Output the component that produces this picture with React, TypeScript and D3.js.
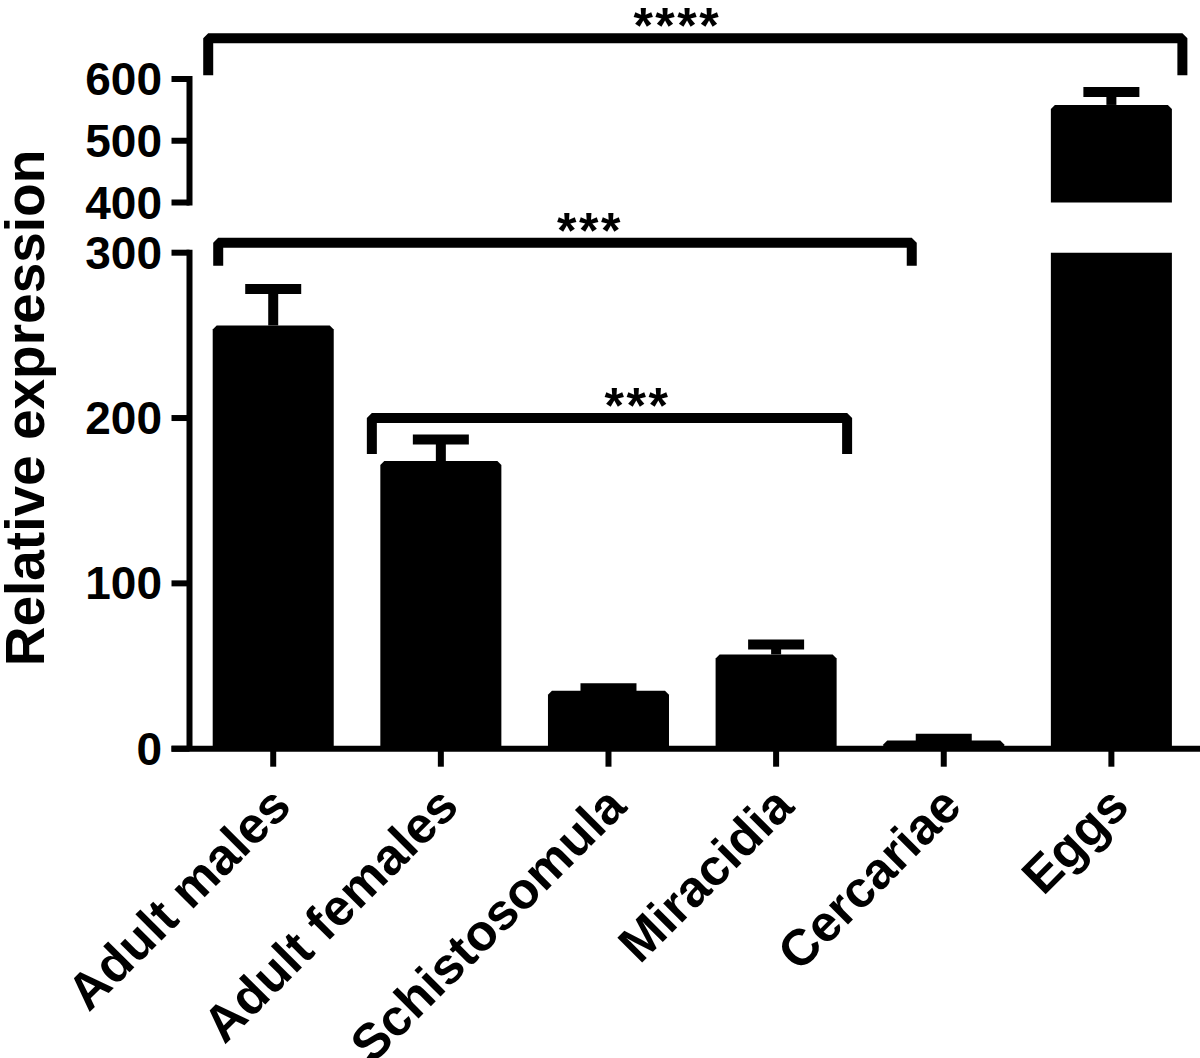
import React from "react";
import { scaleBand, scaleLinear } from "d3";

const categories = ["Adult males", "Adult females", "Schistosomula", "Miracidia", "Cercariae", "Eggs"];
const means = [256, 174, 35, 57, 5, 558];
const errors = [22, 13, 1.5, 6, 1, 21];

const lowTicks = [0, 100, 200, 300];
const highTicks = [400, 500, 600];

// significance brackets: category pair, height (data units) and label
const brackets = [
  { from: "Adult males", to: "Eggs", level: 666, label: "****" },
  { from: "Adult males", to: "Cercariae", level: 306, label: "***" },
  { from: "Adult females", to: "Miracidia", level: 200, label: "***" },
];
// hand tweaks (px) for where the legs / labels sit
const bracketTweaks = [
  { dl: -65, dr: 71, leg: 37, dLabel: -18 },
  { dl: -55, dr: -32, leg: 23, dLabel: 25 },
  { dl: -69, dr: 71, leg: 36, dLabel: 28 },
];

const W = 1200;
const H = 1058;
const font = "'Liberation Sans', Arial, Helvetica, sans-serif";
const breakLow = 300;
const breakHigh = 400;

const x = scaleBand().domain(categories).range([189.4, 1195.2]).paddingInner(0.278).paddingOuter(0.139);
const yLow = scaleLinear().domain([0, 300]).range([748.7, 252.7]);
const yHigh = scaleLinear().domain([400, 600]).range([202.5, 79]);
const yPos = (v: number) => (v <= breakLow ? yLow(v) : v >= breakHigh ? yHigh(v) : yLow(v));

const axisX = 189.5;
const tickLen = 18;

function barPath(x0: number, x1: number, yTop: number, yBot: number, ch: number) {
  return `M${x0},${yBot}L${x0},${yTop + ch}L${x0 + ch},${yTop}L${x1 - ch},${yTop}L${x1},${yTop + ch}L${x1},${yBot}Z`;
}

export default function App() {
  const bw = x.bandwidth();
  return (
    <svg width={W} height={H} style={{ position: "absolute", left: 0, top: 0, background: "#fff" }}>
      {/* bars */}
      {categories.map((c, i) => {
        const x0 = x(c)!;
        const x1 = x0 + bw;
        const v = means[i];
        if (v > breakLow) {
          return (
            <g key={c}>
              <path d={barPath(x0, x1, yLow(breakLow), yLow(0), 0)} fill="#000" />
              <path d={barPath(x0, x1, yHigh(v), yHigh(breakHigh), 4)} fill="#000" />
            </g>
          );
        }
        return <path key={c} d={barPath(x0, x1, yLow(v), yLow(0), 4)} fill="#000" />;
      })}

      {/* error bars */}
      {categories.map((c, i) => {
        const cx = x(c)! + bw / 2;
        const top = yPos(means[i] + errors[i]);
        const base = yPos(means[i]);
        return (
          <g key={"e" + c} stroke="#000" strokeWidth={10}>
            <line x1={cx} x2={cx} y1={base} y2={top} />
            <line x1={cx - 28} x2={cx + 28} y1={top} y2={top} />
          </g>
        );
      })}

      {/* y axis, lower segment */}
      <line x1={axisX} x2={axisX} y1={yLow(300) - 3} y2={yLow(0)} stroke="#000" strokeWidth={6} />
      {lowTicks.map((t) => (
        <g key={"lt" + t}>
          <line x1={axisX - tickLen} x2={axisX} y1={yLow(t)} y2={yLow(t)} stroke="#000" strokeWidth={6} />
          <text x={162} y={yLow(t)} textAnchor="end" dominantBaseline="central" fontFamily={font} fontWeight="bold" fontSize={46}>
            {t}
          </text>
        </g>
      ))}
      {/* y axis, upper segment */}
      <line x1={axisX} x2={axisX} y1={yHigh(600) - 3} y2={yHigh(400) + 3} stroke="#000" strokeWidth={6} />
      {highTicks.map((t) => (
        <g key={"ht" + t}>
          <line x1={axisX - tickLen} x2={axisX} y1={yHigh(t)} y2={yHigh(t)} stroke="#000" strokeWidth={6} />
          <text x={162} y={yHigh(t)} textAnchor="end" dominantBaseline="central" fontFamily={font} fontWeight="bold" fontSize={46}>
            {t}
          </text>
        </g>
      ))}

      {/* x axis */}
      <line x1={axisX - tickLen} x2={W} y1={yLow(0)} y2={yLow(0)} stroke="#000" strokeWidth={6} />
      {categories.map((c) => {
        const cx = x(c)! + bw / 2;
        const y0 = yLow(0);
        return (
          <g key={"xt" + c}>
            <line x1={cx} x2={cx} y1={y0} y2={y0 + tickLen} stroke="#000" strokeWidth={6} />
            <text
              transform={`translate(${cx + 20},${y0 + 60}) rotate(-45)`}
              textAnchor="end"
              fontFamily={font}
              fontWeight="bold"
              fontSize={51}
            >
              {c}
            </text>
          </g>
        );
      })}

      {/* y title */}
      <text
        transform={`translate(44,408) rotate(-90)`}
        textAnchor="middle"
        fontFamily={font}
        fontWeight="bold"
        fontSize={55}
      >
        Relative expression
      </text>

      {/* significance brackets */}
      {brackets.map((b, i) => {
        const tw = bracketTweaks[i];
        const xl = x(b.from)! + bw / 2 + tw.dl;
        const xr = x(b.to)! + bw / 2 + tw.dr;
        const yb = yPos(b.level);
        return (
          <g key={"b" + i}>
            <path
              d={`M${xl},${yb + tw.leg}L${xl},${yb}L${xr},${yb}L${xr},${yb + tw.leg}`}
              fill="none"
              stroke="#000"
              strokeWidth={10}
              strokeLinejoin="bevel"
            />
            <text
              x={(xl + xr) / 2 + tw.dLabel}
              y={yb + 5}
              textAnchor="middle"
              fontFamily={font}
              fontWeight="bold"
              fontSize={50}
              letterSpacing={2.5}
            >
              {b.label}
            </text>
          </g>
        );
      })}
    </svg>
  );
}
